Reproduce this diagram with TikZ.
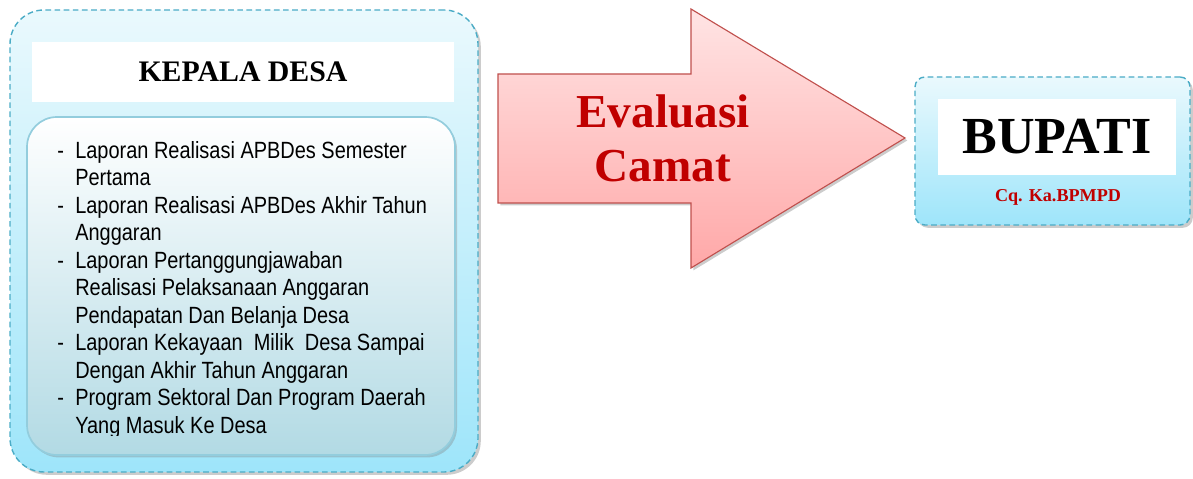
\documentclass[tikz,border=0pt]{standalone}
\usepackage{fontspec}
\setmainfont{Liberation Serif}
\newfontfamily\narrowsans[FakeStretch=0.85]{Liberation Sans}
\usetikzlibrary{shadows}

\definecolor{boxline}{HTML}{4BACC6}
\definecolor{boxtop}{HTML}{EAF9FD}
\definecolor{boxbottom}{HTML}{9EE5FA}
\definecolor{listline}{HTML}{93CDDD}
\definecolor{listbottom}{HTML}{B2DAE4}
\definecolor{arrowline}{HTML}{C0504D}
\definecolor{arrowtop}{HTML}{FFE4E4}
\definecolor{arrowbottom}{HTML}{FFA8A8}
\definecolor{darkred}{HTML}{C00000}

\newcommand{\itemdash}{\makebox[0.45cm][l]{-}}
\newcommand{\itemgap}{\hspace*{0.45cm}}

\begin{document}
\begin{tikzpicture}[
    levelbox/.style={draw=boxline, dash pattern=on 4pt off 2.5pt, line width=1pt, top color=boxtop, bottom color=boxbottom, drop shadow={shadow xshift=0.7mm, shadow yshift=-0.7mm, opacity=0.4}},
    titlebox/.style={fill=white, inner sep=0pt}
]
    \useasboundingbox (0,0) rectangle (29.825,11.95);

    \node[levelbox, rounded corners=0.85cm, minimum width=11.7cm, minimum height=11.55cm] (desa) at (6.1,5.925) {};
    \node[titlebox, minimum width=10.55cm, minimum height=1.5cm, font=\bfseries\fontsize{21.2}{25}\selectfont] (kades) at (6.075,10.15) {KEPALA DESA};
    \node[draw=listline, line width=1.2pt, rounded corners=0.75cm, top color=white, bottom color=listbottom, minimum width=10.7cm, minimum height=8.45cm, drop shadow={shadow xshift=0.5mm, shadow yshift=-0.6mm, opacity=0.35}] (laporan) at (6.025,4.8) {};
    \begin{scope}
        \clip (0.675,1.075) rectangle (11.375,9.025);
        \node[anchor=north west, inner sep=0pt, align=left, font=\narrowsans\fontsize{16.7}{19.56}\selectfont] (isi) at (1.425,8.42) {%
            \itemdash Laporan Realisasi APBDes Semester\\
            \itemgap Pertama\\
            \itemdash Laporan Realisasi APBDes Akhir Tahun\\
            \itemgap Anggaran\\
            \itemdash Laporan Pertanggungjawaban\\
            \itemgap Realisasi Pelaksanaan Anggaran\\
            \itemgap Pendapatan Dan Belanja Desa\\
            \itemdash Laporan Kekayaan\ \ Milik\ \ Desa Sampai\\
            \itemgap Dengan Akhir Tahun Anggaran\\
            \itemdash Program Sektoral Dan Program Daerah\\
            \itemgap Yang Masuk Ke Desa};
    \end{scope}

    \path[draw=arrowline, line width=0.8pt, top color=arrowtop, bottom color=arrowbottom, drop shadow={shadow xshift=0.6mm, shadow yshift=-0.6mm, opacity=0.4}]
        (12.45,10.1) -- (17.275,10.1) -- (17.275,11.725) -- (22.625,8.5) -- (17.275,5.25) -- (17.275,6.875) -- (12.45,6.875) -- cycle;
    \node[text=darkred, align=center, font=\bfseries\fontsize{33.6}{38.4}\selectfont] (camat) at (16.575,8.5) {Evaluasi\\Camat};

    \node[levelbox, rounded corners=0.25cm, minimum width=6.875cm, minimum height=3.7cm] (kabupaten) at (26.3125,8.175) {};
    \node[titlebox, minimum width=5.95cm, minimum height=1.9cm, font=\bfseries\fontsize{37}{42}\selectfont] (bupati) at (26.425,8.525) {BUPATI};
    \node[anchor=base, text=darkred, font=\bfseries\fontsize{12.9}{15}\selectfont] (bpmpd) at (26.45,6.9) {Cq. Ka.BPMPD};
\end{tikzpicture}
\end{document}
